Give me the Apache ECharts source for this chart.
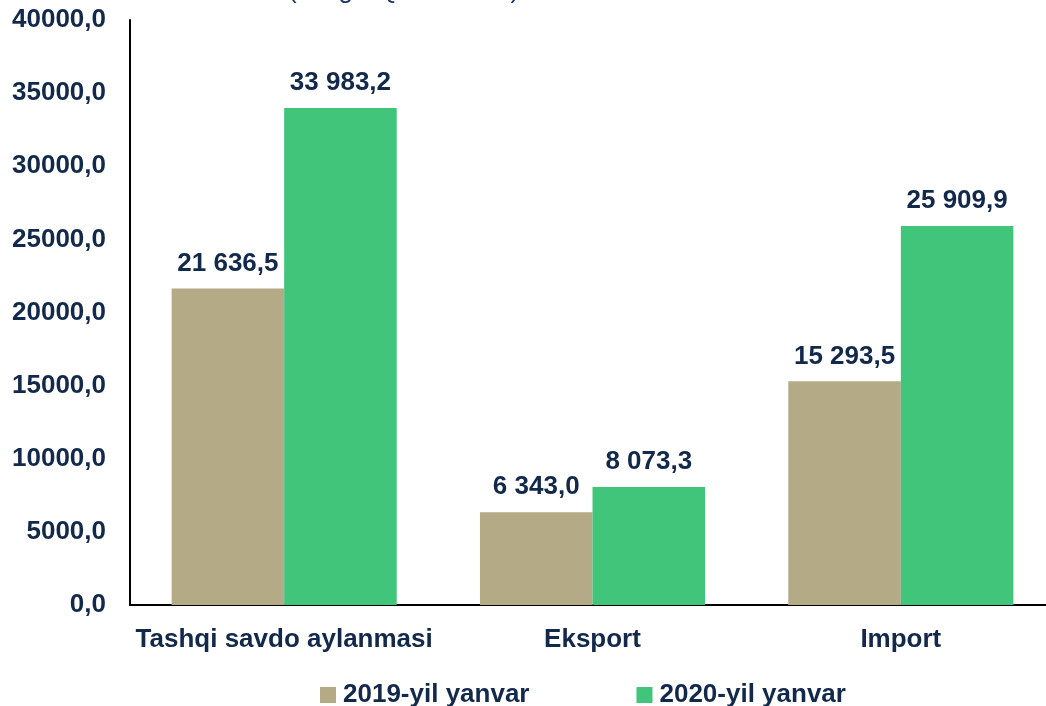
<!DOCTYPE html>
<html>
<head>
<meta charset="utf-8">
<script src="https://cdn.jsdelivr.net/npm/echarts@6/dist/echarts.min.js"></script>
<style>
  html, body { margin: 0; padding: 0; background: #fff; }
  #main { width: 1046px; height: 706px; }
</style>
</head>
<body>
<div id="main"></div>
<script>
// kategoriyalar va qiymatlar
const categories = ['Tashqi savdo aylanmasi', 'Eksport', 'Import'];
const seriesNames = ['2019-yil yanvar', '2020-yil yanvar'];
const values2019 = [21636.5, 6343.0, 15293.5];
const values2020 = [33983.2, 8073.3, 25909.9];
const titleText = '(ming AQSH dollari)';

const textColor = '#13294b';
const colors = ['#b4aa86', '#40c57a'];

function fmt(v) {
  // 33983.2 -> "33 983,2"
  const parts = v.toFixed(1).split('.');
  const intPart = parts[0].replace(/\B(?=(\d{3})+(?!\d))/g, ' ');
  return intPart + ',' + parts[1];
}

var chart = echarts.init(document.getElementById('main'));

const labelStyle = {
  show: true,
  position: 'top',
  distance: 12,
  color: textColor,
  fontFamily: 'Liberation Sans, Arial, sans-serif',
  fontWeight: 'bold',
  fontSize: 26,
  formatter: p => fmt(p.value)
};

var option = {
  animation: false,
  color: colors,
  textStyle: { fontFamily: 'Liberation Sans, Arial, sans-serif' },
  title: {
    text: titleText,
    left: 288,
    top: -22,
    padding: 0,
    textStyle: {
      color: '#1f3864',
      fontSize: 26,
      fontWeight: 'normal',
      fontFamily: 'Liberation Sans, Arial, sans-serif'
    }
  },
  legend: {
    data: seriesNames,
    left: 315,
    top: 677,
    icon: 'rect',
    itemWidth: 16,
    itemHeight: 16,
    itemGap: 107,
    textStyle: {
      color: textColor,
      fontSize: 26,
      fontWeight: 'bold',
      padding: [0, 0, 0, 2]
    }
  },
  grid: {
    left: 130,
    top: 20,
    width: 925,
    height: 585,
    outerBoundsMode: 'none',
    containLabel: false
  },
  xAxis: {
    type: 'category',
    data: categories,
    axisLine: { lineStyle: { color: '#000', width: 2 } },
    axisTick: { show: false },
    axisLabel: {
      interval: 0,
      color: textColor,
      fontSize: 26,
      fontWeight: 'bold',
      margin: 22
    }
  },
  yAxis: {
    type: 'value',
    min: 0,
    max: 40000,
    interval: 5000,
    axisLine: { show: true, lineStyle: { color: '#000', width: 2 } },
    axisTick: { show: false },
    splitLine: { show: false },
    axisLabel: {
      color: textColor,
      fontSize: 26,
      fontWeight: 'bold',
      margin: 24,
      formatter: v => v.toFixed(1).replace('.', ',')
    }
  },
  series: [
    {
      name: seriesNames[0],
      type: 'bar',
      data: values2019,
      barGap: '0%',
      barCategoryGap: '27%',
      label: labelStyle
    },
    {
      name: seriesNames[1],
      type: 'bar',
      data: values2020,
      barGap: '0%',
      barCategoryGap: '27%',
      label: labelStyle
    }
  ]
};

chart.setOption(option);
</script>
</body>
</html>
